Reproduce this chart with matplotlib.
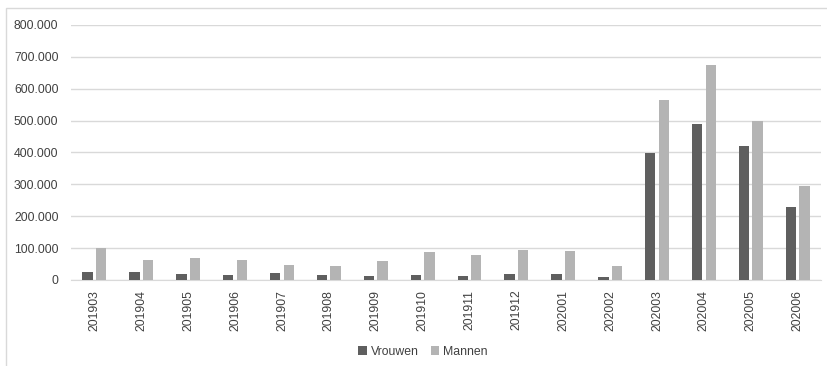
import numpy as np
import matplotlib.pyplot as plt
from matplotlib.patches import Rectangle
from matplotlib.ticker import FuncFormatter

# Data
months = ["201903", "201904", "201905", "201906", "201907", "201908",
          "201909", "201910", "201911", "201912", "202001", "202002",
          "202003", "202004", "202005", "202006"]
vrouwen = [25000, 25000, 19000, 15000, 21000, 16000, 14000, 16000,
           14000, 19000, 19000, 10000, 398000, 488000, 420000, 230000]
mannen = [100000, 62000, 68000, 62000, 46000, 45000, 59000, 87000,
          77000, 94000, 90000, 45000, 565000, 673000, 500000, 295000]

plt.rcParams['font.family'] = ['Liberation Sans', 'DejaVu Sans']

fig = plt.figure(figsize=(8.28, 3.66), dpi=100)
ax = fig.add_axes([0.0857, 0.235, 0.906, 0.697])

# outer chart border (only left/top visible in reference)
fig.patches.append(Rectangle((6 / 828, -0.1), 1.2, 1.1 - 8 / 366,
                             transform=fig.transFigure, fill=False,
                             edgecolor="#d9d9d9", lw=1))

x = np.arange(len(months))
w = 0.22
off = 0.145
ax.bar(x - off, vrouwen, w, color="#5f5f5f", label="Vrouwen", zorder=3)
ax.bar(x + off, mannen, w, color="#b4b4b4", label="Mannen", zorder=3)

ax.set_xlim(-0.5, len(months) - 0.5)
ax.set_ylim(0, 800000)
ax.set_yticks(np.arange(0, 800001, 100000))
ax.yaxis.set_major_formatter(FuncFormatter(lambda v, p: f"{int(v):,}".replace(",", ".")))
ax.set_xticks(x)
ax.set_xticklabels(months, rotation=90)

ax.grid(axis="y", color="#d9d9d9", lw=1, zorder=0)
for s in ["top", "right", "left"]:
    ax.spines[s].set_visible(False)
ax.spines["bottom"].set_color("#d9d9d9")
ax.tick_params(axis="both", length=0, labelsize=8.8, colors="#404040")
ax.tick_params(axis="y", pad=9)
ax.tick_params(axis="x", pad=7)

ax.legend(loc="center", bbox_to_anchor=(423 / 828, 14 / 366), bbox_transform=fig.transFigure,
          ncol=2, frameon=False, fontsize=8.8, handlelength=0.7, handleheight=0.7,
          handletextpad=0.3, columnspacing=1.0, labelcolor="#404040")

fig.savefig("out.png", dpi=100)
